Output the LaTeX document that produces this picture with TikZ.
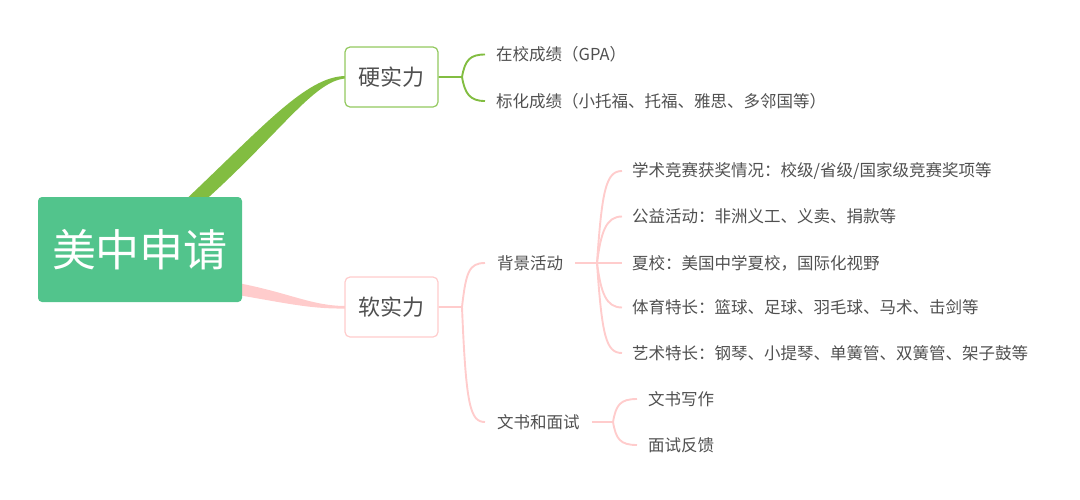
\documentclass[tikz,border=0pt]{standalone}
\usepackage{fontspec}
\setmainfont{Noto Sans CJK SC}
\definecolor{rootgreen}{HTML}{52C48C}
\definecolor{branchgreen}{HTML}{82BD41}
\definecolor{boxgreen}{HTML}{93C95F}
\definecolor{pinkline}{HTML}{FFCCCC}
\definecolor{txtgray}{HTML}{505050}
\begin{document}
\begin{tikzpicture}[x=1pt,y=-1pt,
  rootbox/.style={fill=rootgreen,rounded corners=4pt,minimum width=204pt,minimum height=105pt,inner sep=0pt,text=white,font=\fontsize{44pt}{48pt}\selectfont},
  lvlbox/.style={draw,line width=1.2pt,fill=white,rounded corners=5pt,minimum width=93pt,minimum height=60pt,inner sep=0pt,text=txtgray,font=\fontsize{22pt}{25pt}\selectfont},
  leaf/.style={anchor=west,inner ysep=0pt,inner xsep=11pt,text=txtgray,font=\fontsize{16.5pt}{19pt}\selectfont},
  gline/.style={draw=branchgreen,line width=1.9pt},
  pline/.style={draw=pinkline,line width=1.9pt}]
\useasboundingbox (0,0) rectangle (1080,499);
% main branches (tapered)
\fill[branchgreen] (180,205) .. controls (262,128) and (306,76) .. (346,76)
  -- (346,78.5) .. controls (314,80) and (280,134) .. (200,205) -- cycle;
\fill[pinkline] (238,283) .. controls (290,293) and (312,306) .. (346,306)
  -- (346,308.5) .. controls (312,309) and (290,304) .. (238,295) -- cycle;
% root and first level
\node[rootbox] (root) at (140,249.5) {美中申请};
\node[lvlbox,draw=boxgreen] (hard) at (391.5,77) {硬实力};
\node[lvlbox,draw=pinkline] (soft) at (391.5,307) {软实力};
% hard children
\coordinate (hj) at (462,77);
\node[leaf] (gpa) at (485,54.5) {在校成绩（GPA）};
\node[leaf] (std) at (485,101) {标化成绩（小托福、托福、雅思、多邻国等）};
\draw[gline] (hard.east) -- (hj) .. controls (465,60) and (470,54.5) .. (gpa.west);
\draw[gline] (hj) .. controls (465,94) and (470,101) .. (std.west);
% soft children
\coordinate (sj) at (462,307);
\node[leaf,inner xsep=12pt] (bg) at (485,263) {背景活动};
\node[leaf,inner xsep=12pt] (ess) at (485,422) {文书和面试};
\draw[pline] (soft.east) -- (sj) .. controls (466,272) and (469,263) .. (bg.west);
\draw[pline] (sj) .. controls (466,405) and (470,422) .. (ess.west);
% background activities
\coordinate (bj) at (597,263);
\node[leaf,inner xsep=10pt] (a1) at (622,171) {学术竞赛获奖情况：校级/省级/国家级竞赛奖项等};
\node[leaf,inner xsep=10pt] (a2) at (622,216.5) {公益活动：非洲义工、义卖、捐款等};
\node[leaf,inner xsep=10pt] (a3) at (622,263) {夏校：美国中学夏校，国际化视野};
\node[leaf,inner xsep=10pt] (a4) at (622,307.5) {体育特长：篮球、足球、羽毛球、马术、击剑等};
\node[leaf,inner xsep=10pt] (a5) at (622,353) {艺术特长：钢琴、小提琴、单簧管、双簧管、架子鼓等};
\draw[pline] (bg.east) -- (bj);
\draw[pline] (bj) .. controls (602,190) and (606,171) .. (a1.west);
\draw[pline] (bj) .. controls (601,232) and (606,216.5) .. (a2.west);
\draw[pline] (bj) -- (a3.west);
\draw[pline] (bj) .. controls (601,293) and (606,307.5) .. (a4.west);
\draw[pline] (bj) .. controls (602,336) and (606,353) .. (a5.west);
% essays and interview
\coordinate (ej) at (613,422);
\node[leaf] (e1) at (637,399) {文书写作};
\node[leaf] (e2) at (637,445) {面试反馈};
\draw[pline] (ess.east) -- (ej);
\draw[pline] (ej) .. controls (616,405) and (620,399) .. (e1.west);
\draw[pline] (ej) .. controls (616,439) and (620,445) .. (e2.west);
\end{tikzpicture}
\end{document}
